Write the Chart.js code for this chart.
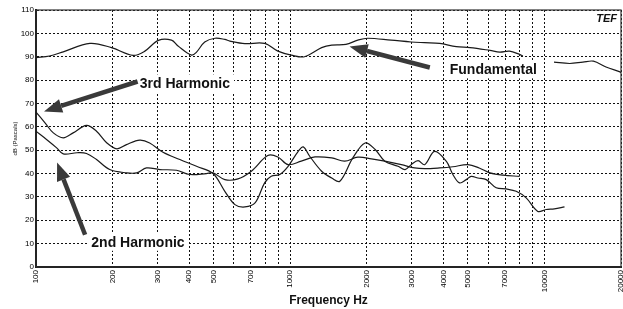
<!DOCTYPE html>
<html lang="en">
<head>
    <meta charset="UTF-8">
    <title>Harmonic Distortion</title>
    <script src="https://cdn.jsdelivr.net/npm/chart.js"></script>
    <style>
        body { margin: 0; padding: 0; background: #fff; }
        canvas { display: block; }
    </style>
</head>
<body>
    <canvas id="chart" width="623" height="309"></canvas>
    <script>
        // tick positions and labels
        const gridFreqs = [100, 200, 300, 400, 500, 600, 700, 800, 900, 1000,
                           2000, 3000, 4000, 5000, 6000, 7000, 8000, 9000, 10000, 20000];
        const labelFreqs = [100, 200, 300, 400, 500, 700, 1000, 2000, 3000, 4000, 5000, 7000, 10000, 20000];

        // Fundamental (null = gap behind the label)
        const fundFreq = [100, 113, 128, 163, 198, 241, 268, 303, 341, 362, 409, 428, 461, 506, 553, 579,
                          663, 793, 894, 1010, 1138, 1329, 1456, 1656, 1844, 2017, 2492, 2990, 3378, 3868,
                          4500, 5095, 6106, 6673, 7291, 7982, 8228, 9500, 10900, 12570, 14160, 15580, 17460, 19700, 20000];
        const fundDb = [89.6, 90.3, 92.1, 95.7, 93.9, 90.6, 92.4, 97, 97.1, 94.6, 90.7, 92, 96.3, 97.9, 97.4, 96.7,
                        95.6, 95.7, 92.4, 90.7, 90, 93.9, 95, 95.3, 97.1, 97.9, 97.1, 96.3, 96, 95.7,
                        94.3, 93.9, 92.7, 92, 92.4, 91, 90.3, null, 87.7, 87.1, 87.7, 88.1, 85.6, 83.6, 83.3];

        // 3rd harmonic
        const thirdFreq = [100, 108.5, 117, 128, 140, 158, 173, 190, 208, 227, 256, 280, 316, 368, 428, 497,
                           553, 606, 663, 727, 793, 842, 910, 981, 1075, 1125, 1193, 1329, 1456, 1567, 1763,
                           1970, 2158, 2354, 2654, 2830, 2990, 3182, 3378, 3695, 4109, 4362, 4634, 4924, 5152,
                           5470, 5902, 6460, 7071, 7740, 8473, 9413, 10150, 10940, 11990];
        const thirdDb = [66.3, 61.7, 57.4, 55.3, 57.4, 60.6, 58.1, 53.1, 50.6, 52.4, 54.3, 53.1, 49.1, 46, 43.1, 40,
                         32.4, 26.7, 25.7, 27.4, 36, 38.8, 39.6, 43.1, 49.5, 51.4, 47.4, 41, 38.1, 36.7, 46.7,
                         53.1, 50.3, 45.3, 43.1, 41.7, 43.8, 45.5, 43.8, 49.5, 45.3, 39.6, 36, 37.4, 38.8,
                         38.1, 37.4, 33.9, 33.4, 32.4, 29.6, 23.8, 24.6, 24.9, 25.7];

        // 2nd harmonic
        const secondFreq = [100, 110, 120.6, 128, 145, 158, 173, 195, 227, 249, 272, 307, 357, 402, 468, 497,
                            553, 623, 703, 816, 894, 981, 1105, 1252, 1456, 1637, 1844, 2086, 2354, 2737, 3086,
                            3378, 3868, 4362, 4998, 5538, 6106, 6878, 7982];
        const secondDb = [58.1, 54.6, 51, 48.4, 48.9, 48.6, 46, 41.7, 40.3, 40.3, 42.4, 41.7, 41.4, 39.6, 40, 40.3,
                          37.4, 37.7, 41, 47.7, 47.1, 43.8, 45.3, 47.1, 46.7, 45.3, 47, 46.3, 45.3, 43.8, 42.4,
                          42.1, 42.4, 42.9, 43.8, 42.4, 40.3, 39.3, 38.8];

        // arrow callouts, in data units (Hz, dB)
        const callouts = [
            { text: '3rd Harmonic', label: [256, 78.6], tail: [251, 79.4], tip: [107.5, 66.6] },
            { text: '2nd Harmonic', label: [165, 10.8], tail: [156, 13.8], tip: [121, 44.7] },
            { text: 'Fundamental', label: [4240, 84.6], tail: [3540, 85.4], tip: [1711, 94.4] }
        ];

        const toPoints = (xs, ys) => xs.map((x, i) => ({ x: x, y: ys[i] }));

        const calloutPlugin = {
            id: 'callouts',
            beforeDatasetsDraw(chart) {
                // solid frame round the plot
                const c = chart.ctx, ca = chart.chartArea;
                c.save();
                c.strokeStyle = '#333';
                c.lineWidth = 1.2;
                c.strokeRect(ca.left, ca.top, ca.right - ca.left, ca.bottom - ca.top);
                c.restore();
            },
            afterDatasetsDraw(chart) {
                const c = chart.ctx, sx = chart.scales.x, sy = chart.scales.y;
                c.save();
                c.font = 'bold 14px "Liberation Sans", Arial, sans-serif';
                c.textBaseline = 'middle';
                callouts.forEach(a => {
                    const lx = sx.getPixelForValue(a.label[0]), ly = sy.getPixelForValue(a.label[1]);
                    const w = c.measureText(a.text).width;
                    c.fillStyle = '#fff';
                    c.fillRect(lx - 4, ly - 9, w + 8, 18);
                    c.fillStyle = '#111';
                    c.fillText(a.text, lx, ly + 1);

                    const x1 = sx.getPixelForValue(a.tail[0]), y1 = sy.getPixelForValue(a.tail[1]);
                    const x2 = sx.getPixelForValue(a.tip[0]), y2 = sy.getPixelForValue(a.tip[1]);
                    const ang = Math.atan2(y2 - y1, x2 - x1);
                    const hl = 18, hw = 7;
                    const bx = x2 - hl * Math.cos(ang), by = y2 - hl * Math.sin(ang);
                    c.strokeStyle = '#3a3a3a';
                    c.lineWidth = 4.5;
                    c.beginPath();
                    c.moveTo(x1, y1);
                    c.lineTo(bx, by);
                    c.stroke();
                    c.fillStyle = '#3a3a3a';
                    c.beginPath();
                    c.moveTo(x2, y2);
                    c.lineTo(bx + hw * Math.sin(ang), by - hw * Math.cos(ang));
                    c.lineTo(bx - hw * Math.sin(ang), by + hw * Math.cos(ang));
                    c.closePath();
                    c.fill();
                });
                // TEF logo, top right corner
                const ca = chart.chartArea;
                c.font = 'italic bold 11px "Liberation Sans", Arial, sans-serif';
                c.textAlign = 'right';
                c.fillStyle = '#111';
                c.fillText('TEF', ca.right - 4, ca.top + 9);
                c.restore();
            }
        };

        const lineStyle = { borderColor: '#1a1a1a', borderWidth: 1.2, pointRadius: 0, tension: 0.35, fill: false, spanGaps: false };

        new Chart(document.getElementById('chart'), {
            type: 'line',
            data: {
                datasets: [
                    Object.assign({ label: 'Fundamental', data: toPoints(fundFreq, fundDb) }, lineStyle),
                    Object.assign({ label: '3rd Harmonic', data: toPoints(thirdFreq, thirdDb) }, lineStyle),
                    Object.assign({ label: '2nd Harmonic', data: toPoints(secondFreq, secondDb) }, lineStyle)
                ]
            },
            options: {
                responsive: false,
                animation: false,
                layout: { padding: { left: 0, right: 2, top: 10, bottom: 0 } },
                plugins: { legend: { display: false }, tooltip: { enabled: false } },
                scales: {
                    x: {
                        type: 'logarithmic',
                        min: 100,
                        max: 20000,
                        afterBuildTicks: s => { s.ticks = gridFreqs.map(v => ({ value: v })); },
                        afterFit: s => { s.height = 42; s.paddingLeft = 0; s.paddingRight = 0; },
                        ticks: {
                            autoSkip: false,
                            maxRotation: 90,
                            minRotation: 90,
                            padding: 3,
                            color: '#000',
                            font: { size: 8, family: '"Liberation Sans", Arial, sans-serif' },
                            callback: v => labelFreqs.includes(v) ? String(v) : ''
                        },
                        grid: { color: '#111', lineWidth: 1, drawTicks: false },
                        border: { color: '#111', width: 2, dash: [2, 2] },
                        title: {
                            display: true,
                            text: 'Frequency Hz',
                            color: '#111',
                            padding: { top: 0, bottom: 1 },
                            font: { size: 12, weight: 'bold', family: '"Liberation Sans", Arial, sans-serif' }
                        }
                    },
                    y: {
                        min: 0,
                        max: 110,
                        afterFit: s => { s.width = 36; s.paddingTop = 0; s.paddingBottom = 0; },
                        ticks: {
                            stepSize: 10,
                            padding: 2,
                            color: '#000',
                            font: { size: 8, family: '"Liberation Sans", Arial, sans-serif' }
                        },
                        grid: { color: '#111', lineWidth: 1, drawTicks: false },
                        border: { color: '#111', width: 2, dash: [2, 2] },
                        title: {
                            display: true,
                            text: 'dB (Pascals)',
                            color: '#111',
                            padding: { top: 12, bottom: 0 },
                            font: { size: 6, family: '"Liberation Sans", Arial, sans-serif' }
                        }
                    }
                }
            },
            plugins: [calloutPlugin]
        });
    </script>
</body>
</html>
